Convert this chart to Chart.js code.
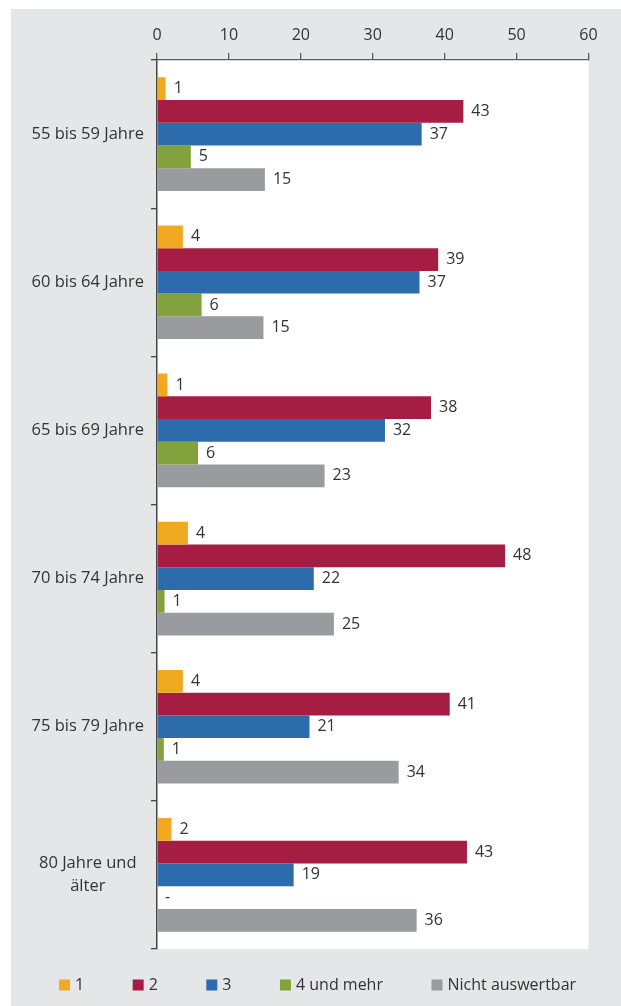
<!DOCTYPE html>
<html>
<head>
<meta charset="utf-8">
<script src="https://cdn.jsdelivr.net/npm/chart.js@4/dist/chart.umd.min.js"></script>
<style>
  html, body { margin: 0; padding: 0; background: #ffffff; }
  #wrap { position: absolute; left: 0; top: 0; width: 621px; height: 1006px; }
</style>
</head>
<body>
<div id="wrap"><canvas id="c" width="621" height="1006"></canvas></div>
<script>
// ---- data ----
const categories = ['55 bis 59 Jahre', '60 bis 64 Jahre', '65 bis 69 Jahre', '70 bis 74 Jahre', '75 bis 79 Jahre', ['80 Jahre und', 'älter']];
const seriesNames = ['1', '2', '3', '4 und mehr', 'Nicht auswertbar'];
const values1 = [1.2, 3.6, 1.45, 4.3, 3.6, 2.0];
const values2 = [42.6, 39.1, 38.1, 48.4, 40.7, 43.1];
const values3 = [36.8, 36.5, 31.7, 21.8, 21.2, 19.0];
const values4 = [4.7, 6.2, 5.7, 1.05, 0.95, null];
const values5 = [15.0, 14.8, 23.3, 24.6, 33.6, 36.1];
const xTicks = [0, 10, 20, 30, 40, 50, 60];

const colors = ['#f2a922', '#a61d43', '#2d6cac', '#82a23e', '#9a9b9e'];
const FONT = 'Open Sans';
const TEXT = '#333333';

const allValues = [values1, values2, values3, values4, values5];

const bgPlugin = {
  id: 'bg',
  beforeDraw(chart) {
    const c = chart.ctx, a = chart.chartArea;
    c.save();
    c.fillStyle = '#ffffff';
    c.fillRect(0, 0, chart.width, chart.height);
    c.fillStyle = '#e5e6e8';
    c.fillRect(11, 9, chart.width - 11, chart.height - 9);
    c.fillStyle = '#ffffff';
    c.fillRect(a.left, a.top, a.right - a.left, a.bottom - a.top);
    c.restore();
  }
};

const valueLabels = {
  id: 'valueLabels',
  afterDatasetsDraw(chart) {
    const c = chart.ctx;
    const xs = chart.scales.x;
    c.save();
    c.font = '16px "' + FONT + '"';
    c.fillStyle = TEXT;
    c.textAlign = 'left';
    c.textBaseline = 'middle';
    chart.data.datasets.forEach((ds, di) => {
      const meta = chart.getDatasetMeta(di);
      meta.data.forEach((el, i) => {
        const v = ds.data[i];
        const txt = (v === null || v === 0) ? '-' : String(Math.round(v));
        const x = (v === null ? xs.getPixelForValue(0) : el.x) + 8;
        c.fillText(txt, x, el.y);
      });
    });
    c.restore();
  }
};

const legendPlace = {
  id: 'legendPlace',
  afterLayout(chart) {
    const l = chart.legend;
    if (!l) return;
    const pad = l.options.labels.padding;
    l.left = 62 - pad;
    l.right = l.left + 720;
    l.width = 720;
    l.top = 977 - pad;
    l.bottom = chart.height;
    l.height = l.bottom - l.top;
  }
};

new Chart(document.getElementById('c'), {
  type: 'bar',
  data: {
    labels: categories,
    datasets: seriesNames.map((n, k) => ({
      label: n,
      data: allValues[k],
      backgroundColor: colors[k],
      borderWidth: 0
    }))
  },
  options: {
    indexAxis: 'y',
    responsive: false,
    animation: false,
    datasets: { bar: { barPercentage: 1, categoryPercentage: 0.767 } },
    layout: { padding: 0 },
    scales: {
      x: {
        position: 'top',
        min: 0, max: 60,
        afterBuildTicks(s) { s.ticks = xTicks.map(v => ({ value: v })); },
        ticks: { color: TEXT, font: { family: FONT, size: 16 }, padding: 8, maxRotation: 0 },
        grid: { drawOnChartArea: false, drawTicks: true, tickLength: 7, color: '#5a5a5a', lineWidth: 1.3 },
        border: { display: true, color: '#5a5a5a', width: 1.3 },
        afterFit(s) { s.height = 60; }
      },
      y: {
        position: 'left',
        ticks: { color: TEXT, font: { family: FONT, size: 16.5, lineHeight: 1.4 }, padding: 7, crossAlign: 'center' },
        grid: { offset: true, drawOnChartArea: false, drawTicks: true, tickLength: 6, color: '#444444', lineWidth: 1.3 },
        border: { display: true, color: '#444444', width: 1.5 },
        afterFit(s) { s.width = 157; }
      },
      yRight: {
        type: 'category',
        axis: 'y',
        position: 'right',
        labels: categories,
        ticks: { display: false },
        grid: { display: false, drawTicks: false },
        border: { display: false },
        afterFit(s) { s.width = 32.5; }
      }
    },
    plugins: {
      legend: {
        position: 'bottom',
        align: 'start',
        maxHeight: 57,
        labels: {
          boxWidth: 5, boxHeight: 5, padding: 51.5, color: TEXT,
          font: { family: FONT, size: 16 },
          generateLabels(chart) {
            const items = Chart.defaults.plugins.legend.labels.generateLabels(chart);
            return items.map(it => Object.assign(it, { lineWidth: 6, strokeStyle: it.fillStyle, lineJoin: 'miter' }));
          }
        }
      },
      tooltip: { enabled: false }
    }
  },
  plugins: [bgPlugin, valueLabels, legendPlace]
});
</script>
</body>
</html>
